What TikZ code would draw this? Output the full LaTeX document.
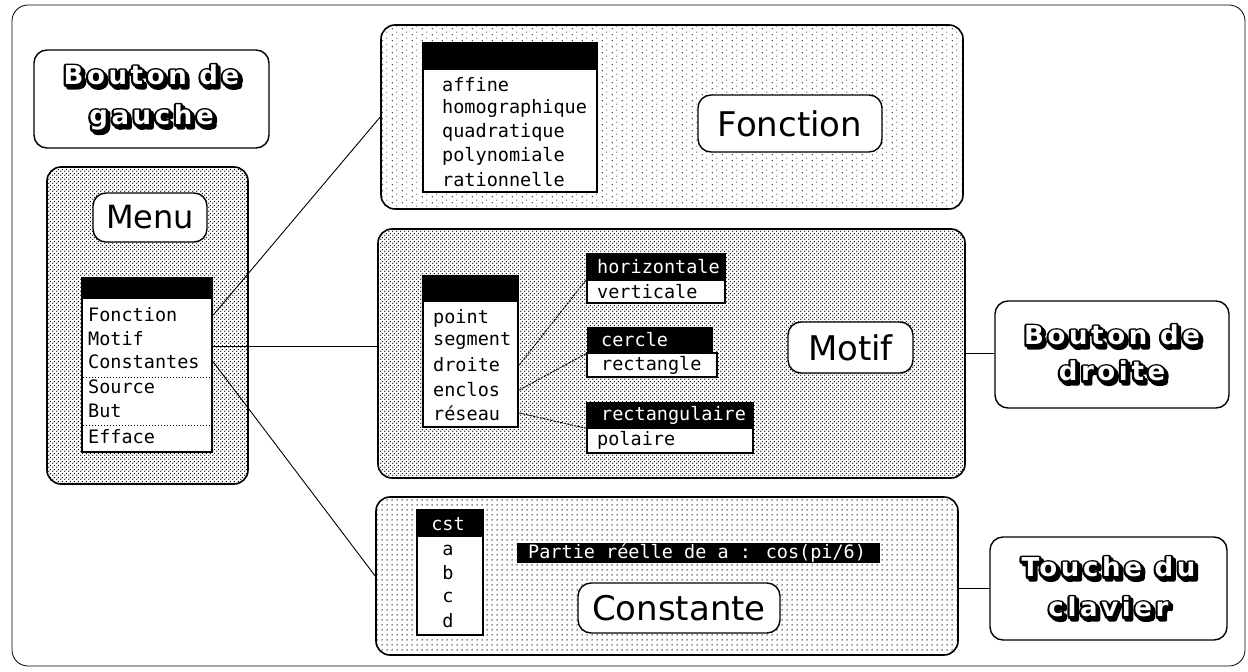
\documentclass[tikz,border=0pt]{standalone}
\usepackage{fontspec}
\setmainfont{DejaVu Sans}
\newfontfamily\monof{DejaVu Sans Mono}
\newfontfamily\blockf[LetterSpace=14]{DejaVu Sans Bold}
\usetikzlibrary{patterns.meta,calc}
\tikzdeclarepattern{name=densedots,type=uncolored,
  bounding box={(0pt,0pt) and (4pt,4pt)},tile size={(4pt,4pt)},
  code={\fill (1pt,1pt) circle (0.85pt); \fill (3pt,3pt) circle (0.85pt);}}
\tikzdeclarepattern{name=griddots,type=uncolored,
  bounding box={(0pt,0pt) and (5pt,5pt)},tile size={(5pt,5pt)},
  code={\fill (2.5pt,2.5pt) circle (0.85pt);}}
\tikzdeclarepattern{name=sparsedots,type=uncolored,
  bounding box={(0pt,0pt) and (10pt,6pt)},tile size={(10pt,6pt)},
  code={\fill (2.5pt,1.5pt) circle (0.7pt); \fill (7.5pt,4.5pt) circle (0.6pt);}}
\newcommand\strk[1]{\special{pdf:literal direct q 2 Tr 4.5 w 1 j 0 g 0 G}#1\special{pdf:literal direct Q}}
\newcommand\shd[1]{\leavevmode\rlap{\kern2.5pt\raisebox{-2.5pt}{\strk{#1}}}\rlap{\strk{#1}}\textcolor{white}{#1}}
\begin{document}
\begin{tikzpicture}[x=1pt,y=-1pt,
  frame/.style={draw,line width=0.8pt,rounded corners=16pt,inner sep=0},
  panel/.style={draw,line width=1.6pt,rounded corners=14pt,inner sep=0},
  lab/.style={draw,fill=white,line width=1.4pt,rounded corners=13pt,inner sep=0,font=\fontsize{34}{34}\selectfont},
  btn/.style={draw,fill=white,line width=1.4pt,rounded corners=13pt,inner sep=0,align=center,font=\blockf\fontsize{26}{40}\selectfont},
  lst/.style={draw,fill=white,line width=2.6pt,inner sep=0},
  hdr/.style={fill=black,inner sep=0},
  item/.style={anchor=west,inner sep=0,font=\monof\fontsize{18.5}{20}\selectfont},
  hitem/.style={item,text=white},
  citem/.style={inner sep=0,font=\monof\fontsize{18.5}{20}\selectfont},
  conn/.style={line width=0.9pt},
  subconn/.style={line width=0.9pt,dash pattern=on 2.5pt off 1pt},
  sep/.style={line width=1pt,dotted}]
\useasboundingbox (0,0) rectangle (1248,672);
% outer frame
\node[frame,minimum width=1233,minimum height=661] (outer) at (628.5,335.5) {};
% Bouton de gauche
\node[btn,minimum width=235,minimum height=98] (bgauche) at (151.5,99) {\shd{Bouton de}\\\shd{gauche}};
% Menu panel
\node[panel,pattern=densedots,minimum width=201,minimum height=317] (menupanel) at (147.5,325.5) {};
\node[lab,minimum width=114,minimum height=49,font=\fontsize{32}{32}\selectfont] (menulab) at (150,217.5) {Menu};
\node[lst,minimum width=130,minimum height=174] (mlist) at (147,365) {};
\node[hdr,minimum width=130,minimum height=21,anchor=north] (mhdr) at (147,278) {};
\node[item] (mFonc) at (88,315) {Fonction};
\node[item] (mMotif) at (88,339) {Motif};
\node[item] (mCons) at (88,362) {Constantes};
\node[item] (mSrc) at (88,387) {Source};
\node[item] (mBut) at (88,411) {But};
\node[item] (mEff) at (88,437) {Efface};
\draw[sep] (83,377) -- (211,377);
\draw[sep] (83,425) -- (211,425);
% Fonction panel
\node[panel,pattern=sparsedots,minimum width=582,minimum height=184] (fpanel) at (672,117) {};
\node[lst,minimum width=174,minimum height=149] (flist) at (510,117.5) {};
\node[hdr,minimum width=174,minimum height=27,anchor=north] (fhdr) at (510,43) {};
\node[item] (fa) at (442,85) {affine};
\node[item] (fb) at (442,108) {homographique};
\node[item] (fc) at (442,132) {quadratique};
\node[item] (fd) at (442,156) {polynomiale};
\node[item] (fe) at (442,180) {rationnelle};
\node[lab,minimum width=184,minimum height=57] (flab) at (790,123.5) {Fonction};
% Motif panel
\node[panel,pattern=densedots,minimum width=587,minimum height=249] (mpanel) at (671.5,353.5) {};
\node[lst,minimum width=95,minimum height=151] (motlist) at (470.5,351.5) {};
\node[hdr,minimum width=95,minimum height=26,anchor=north] (mothdr) at (470.5,276) {};
\node[item] (mp) at (433,318) {point};
\node[item] (ms) at (433,341) {segment};
\node[item] (md) at (433,365) {droite};
\node[item] (me) at (433,390) {enclos};
\node[item] (mr) at (433,413) {réseau};
% sub-menus
\node[lst,minimum width=138,minimum height=23] (vert) at (656,291.5) {};
\node[hdr,minimum width=140,minimum height=27] (horiz) at (656,266.5) {};
\node[hitem] at (597,266.5) {horizontale};
\node[item] at (597,291.5) {verticale};
\node[lst,minimum width=130,minimum height=24] (rectg) at (652,365) {};
\node[hdr,minimum width=126,minimum height=26] (cercle) at (650,340) {};
\node[hitem] at (601,340) {cercle};
\node[item] at (601,365) {rectangle};
\node[lst,minimum width=166,minimum height=25] (polaire) at (670,440.5) {};
\node[hdr,minimum width=168,minimum height=26] (rectl) at (670,415) {};
\node[hitem] at (601,415) {rectangulaire};
\node[item] at (597,440.5) {polaire};
\node[lab,minimum width=125,minimum height=51] (motlab) at (850.5,347.5) {Motif};
% Constante panel
\node[panel,pattern=griddots,minimum width=582,minimum height=158] (cpanel) at (667,576) {};
\node[lst,minimum width=66,minimum height=125] (clist) at (450,572.5) {};
\node[hdr,minimum width=66,minimum height=27,anchor=north] (chdr) at (450,510) {};
\node[citem,text=white] at (448,524) {cst};
\node[citem] (ca) at (448,550) {a};
\node[citem] (cb) at (448,573) {b};
\node[citem] (cc) at (448,597) {c};
\node[citem] (cd) at (448,621) {d};
\node[hdr,minimum width=363,minimum height=20] (partie) at (698.5,553) {};
\node[hitem] at (528,553) {Partie réelle de a : cos(pi/6)};
\node[lab,minimum width=202,minimum height=50] (clab) at (679,608) {Constante};
% right boxes
\node[btn,minimum width=234,minimum height=107,font=\blockf\fontsize{26}{36}\selectfont] (bdroite) at (1112,354.5) {\shd{Bouton de}\\\shd{droite}};
\node[btn,minimum width=237,minimum height=103] (touche) at (1108.5,588.5) {\shd{Touche du}\\\shd{clavier}};
% connectors
\coordinate (sMotif) at ($(mMotif -| mlist.east)!0.32!(mCons -| mlist.east)$);
\draw[conn] (mFonc -| mlist.east) -- (fpanel.west);
\draw[conn] (sMotif) -- (sMotif -| mpanel.west);
\draw[conn] (mCons -| mlist.east) -- (cpanel.west);
\draw[subconn] (md -| motlist.east) -- (horiz.south west);
\draw[subconn] (me -| motlist.east) -- (cercle.south west);
\draw[subconn] (mr -| motlist.east) -- (rectl.south west);
\draw[conn] (mpanel.east) -- (mpanel.east -| bdroite.west);
\draw[conn] (touche.west -| cpanel.east) -- (touche.west);
\end{tikzpicture}
\end{document}
